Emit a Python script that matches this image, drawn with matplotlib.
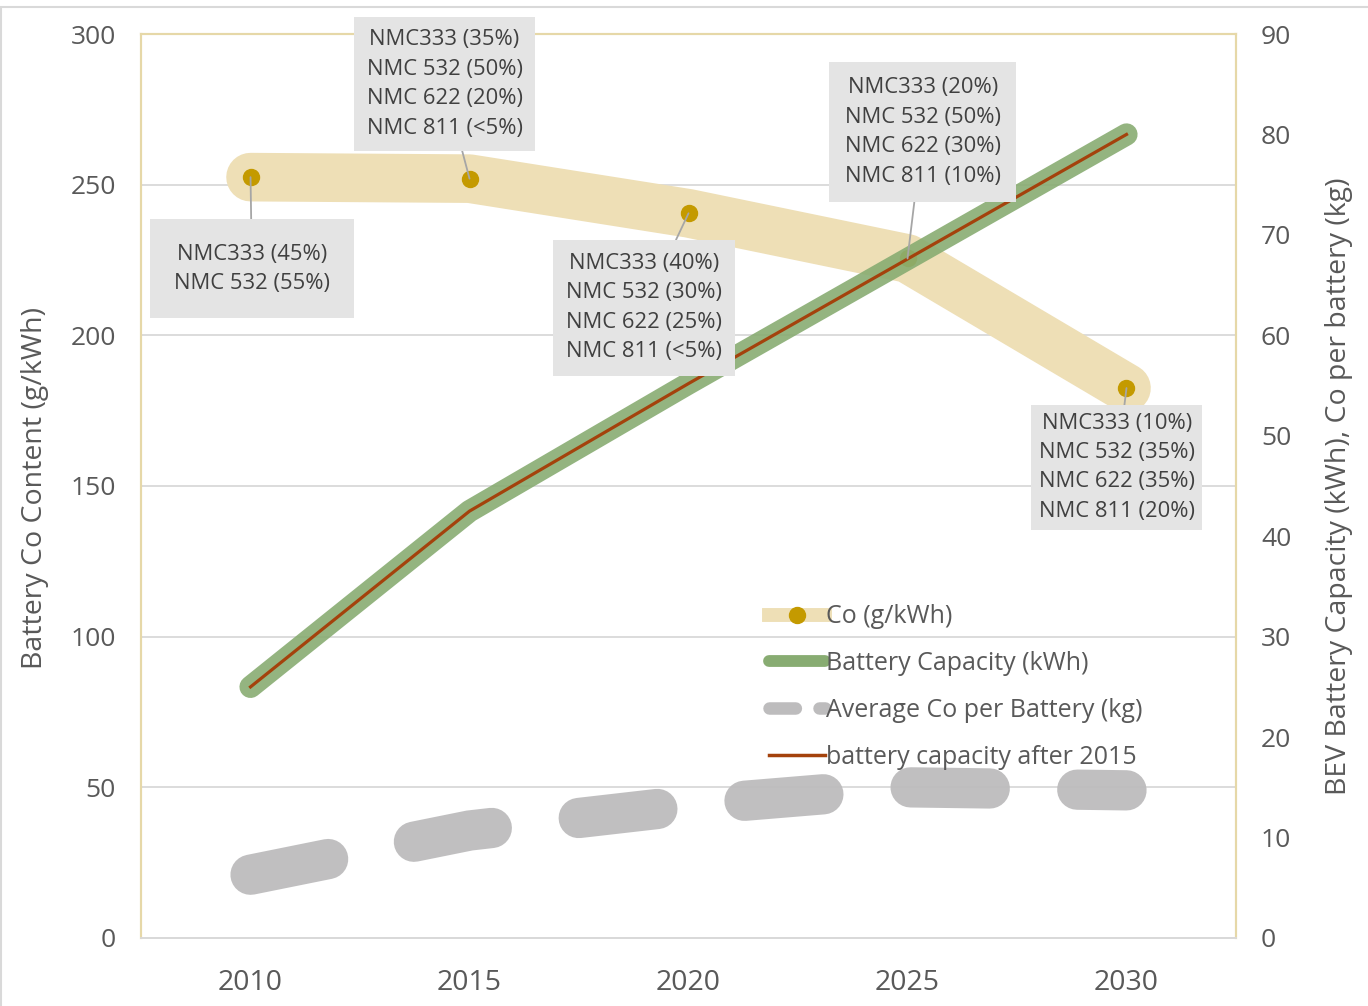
import numpy as np
import matplotlib
matplotlib.use("Agg")
import matplotlib.pyplot as plt
from matplotlib.lines import Line2D
from matplotlib.patches import Rectangle

plt.rcParams['font.family'] = ['Open Sans', 'DejaVu Sans']
plt.rcParams['lines.scale_dashes'] = False

# data
years = [2010, 2015, 2020, 2025, 2030]
co_g_per_kwh = [252.5, 252, 240.5, 225.5, 182.5]
capacity_kwh = [25, 42.5, 55.2, 67.6, 80]
co_per_battery_kg = [6.3, 10.7, 13.2, 15.0, 14.7]

mix_labels = [
    "NMC333 (45%)\nNMC 532 (55%)",
    "NMC333 (35%)\nNMC 532 (50%)\nNMC 622 (20%)\nNMC 811 (<5%)",
    "NMC333 (40%)\nNMC 532 (30%)\nNMC 622 (25%)\nNMC 811 (<5%)",
    "NMC333 (20%)\nNMC 532 (50%)\nNMC 622 (30%)\nNMC 811 (10%)",
    "NMC333 (10%)\nNMC 532 (35%)\nNMC 622 (35%)\nNMC 811 (20%)",
]
# offset of each label box from its point (points) and box padding
label_offsets = [(1, -66), (-18, 68), (-32, -68), (11, 91), (-7, -57)]
label_pads = [1.1, 0.55, 0.6, 0.7, 0.35]

c_tan = '#EEDFB6'
c_gold = '#C49A00'
c_green = '#88AC72'
c_brown = '#A4420C'
c_grey = '#BDBCBD'
c_text = '#595959'

fig = plt.figure(figsize=(13.68, 10.06), dpi=100)
ax = fig.add_axes([0.1031, 0.0676, 0.8004, 0.8986])
ax2 = ax.twinx()

# left axis: Co content
ax.plot(years, co_g_per_kwh, color=c_tan, lw=35, solid_capstyle='round',
        solid_joinstyle='round', zorder=2)
ax.plot(years, co_g_per_kwh, 'o', color=c_gold, ms=11.5, zorder=3)

# right axis: capacity and Co per battery
ax2.plot(years, co_per_battery_kg, color=c_grey, lw=29, dashes=(57, 63),
         dash_capstyle='round', alpha=0.95, zorder=2)
ax2.plot(years, capacity_kwh, color=c_green, lw=16, alpha=0.9,
         solid_capstyle='round', solid_joinstyle='round', zorder=3)
ax2.plot(years, capacity_kwh, color=c_brown, lw=2.3, zorder=4)

ax.set_xlim(2007.5, 2032.5)
ax.set_ylim(0, 300)
ax2.set_ylim(0, 90)
ax.set_xticks(years)
ax.set_yticks(np.arange(0, 301, 50))
ax2.set_yticks(np.arange(0, 91, 10))
ax.grid(axis='y', color='#D9D9D9', lw=1.3)
ax.set_axisbelow(True)

for a in (ax, ax2):
    a.tick_params(length=0, labelsize=19, labelcolor=c_text)
    for s in ('top', 'left', 'right'):
        a.spines[s].set_color('#E6D8A8')
        a.spines[s].set_linewidth(1.5)
    a.spines['bottom'].set_color('#D9D9D9')
    a.spines['bottom'].set_linewidth(1.3)
ax.tick_params(axis='y', pad=18)
ax2.tick_params(axis='y', pad=18)
ax.tick_params(axis='x', pad=22, labelsize=20.5)

ax.set_ylabel("Battery Co Content (g/kWh)", fontsize=20.5, color=c_text)
ax2.set_ylabel("BEV Battery Capacity (kWh), Co per battery (kg)",
               fontsize=20.5, color=c_text)
ax.yaxis.set_label_coords(-0.084, 0.498)
ax2.yaxis.set_label_coords(1.081, 0.5)

# mix labels for each point
for yr, co, txt, off, pd in zip(years, co_g_per_kwh, mix_labels, label_offsets, label_pads):
    ax2.annotate(txt, xy=(yr, co), xycoords=ax.transData, xytext=off,
                 textcoords='offset points', ha='center', va='center',
                 fontsize=15.8, color='#404040', linespacing=1.53, zorder=6,
                 bbox=dict(boxstyle='square,pad=%s' % pd, fc='#E4E4E4', ec='none'),
                 arrowprops=dict(arrowstyle='-', color='#A6A6A6', lw=1.3,
                                 shrinkA=0, shrinkB=0))

handles = [
    Line2D([], [], color=c_tan, lw=10, marker='o', ms=11.5, mfc=c_gold, mec=c_gold),
    Line2D([], [], color=c_green, lw=8.5, solid_capstyle='round'),
    Line2D([], [], color=c_grey, lw=9, dashes=(19, 17), dash_capstyle='round'),
    Line2D([], [], color=c_brown, lw=2.5),
]
labels = ["Co (g/kWh)", "Battery Capacity (kWh)", "Average Co per Battery (kg)",
          "battery capacity after 2015"]
leg = ax2.legend(handles, labels, loc='upper left', bbox_to_anchor=(0.562, 0.383),
                 frameon=False, fontsize=18, handlelength=2.25, handletextpad=0.05,
                 labelspacing=0.87, borderpad=0)
for t in leg.get_texts():
    t.set_color(c_text)
leg.set_zorder(7)

# outer chart border
fig.patches.append(Rectangle((0.0007, -0.01), 1.01, 1.0033, transform=fig.transFigure,
                             fill=False, ec='#D9D9D9', lw=1.5))

fig.savefig("out.png", dpi=100)
